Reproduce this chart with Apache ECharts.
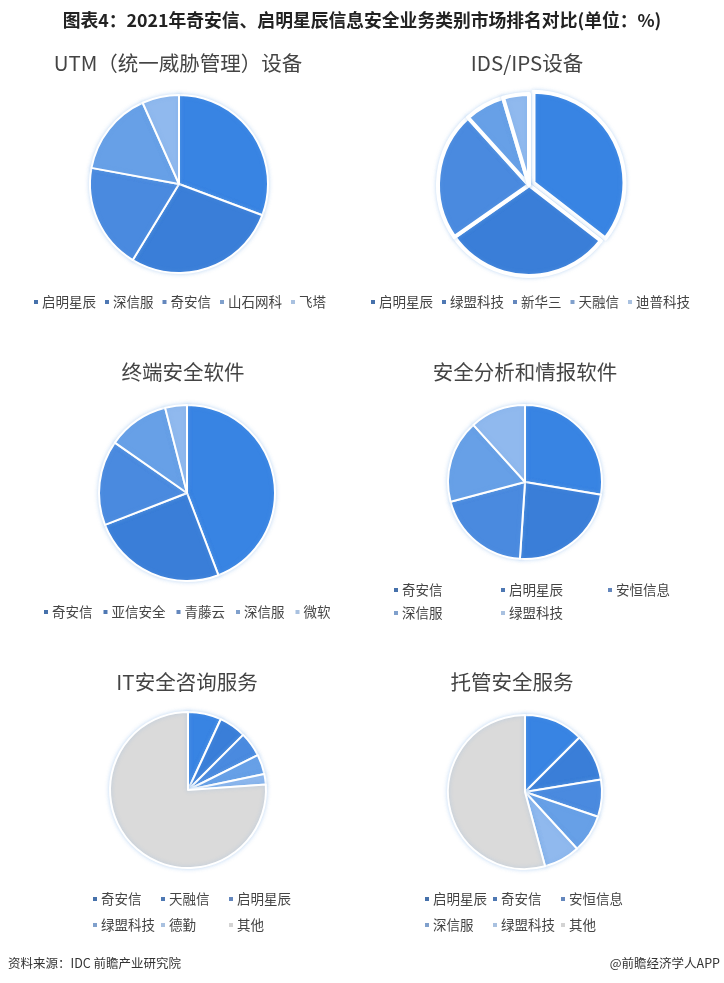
<!DOCTYPE html>
<html>
<head>
<meta charset="utf-8">
<script src="https://cdn.jsdelivr.net/npm/echarts@6/dist/echarts.min.js"></script>
<style>
html,body{margin:0;padding:0;background:#fff;}
#main{width:724px;height:983px;}
</style>
</head>
<body>
<div id="main"></div>
<script>
// ---- data ----
const mainTitle = '图表4：2021年奇安信、启明星辰信息安全业务类别市场排名对比(单位：%)';
const sourceText = '资料来源：IDC 前瞻产业研究院';
const creditText = '@前瞻经济学人APP';

const chartTitles = ['UTM（统一威胁管理）设备', 'IDS/IPS设备', '终端安全软件', '安全分析和情报软件', 'IT安全咨询服务', '托管安全服务'];

const utmNames = ['启明星辰', '深信服', '奇安信', '山石网科', '飞塔'];
const utmValues = [30.7, 28.0, 19.2, 15.4, 6.7];

const idsNames = ['启明星辰', '绿盟科技', '新华三', '天融信', '迪普科技'];
const idsValues = [35.5, 29.8, 23.0, 7.1, 4.6];

const endpointNames = ['奇安信', '亚信安全', '青藤云', '深信服', '微软'];
const endpointValues = [44.2, 24.9, 15.6, 11.3, 4.0];

const analyticsNames = ['奇安信', '启明星辰', '安恒信息', '深信服', '绿盟科技'];
const analyticsValues = [27.6, 23.4, 19.8, 17.4, 11.7];

const consultingNames = ['奇安信', '天融信', '启明星辰', '绿盟科技', '德勤', '其他'];
const consultingValues = [6.9, 5.6, 5.1, 4.1, 2.2, 76.1];

const managedNames = ['启明星辰', '奇安信', '安恒信息', '深信服', '绿盟科技', '其他'];
const managedValues = [12.5, 9.9, 7.8, 8.0, 7.6, 54.2];

// ---- styles ----
const FONT = '"Noto Sans CJK SC", "Noto Sans", sans-serif';
const sliceColors = ['#3884e3', '#3a7ed8', '#4a8adf', '#67a0e7', '#90b9ee'];
const otherColor = '#dadada';
const iconColors = ['#4671ab', '#4e78b3', '#6487bd', '#80a0cc', '#a9c1e0'];
const otherIconColor = '#d3d3d3';

const pies = [
  {names: utmNames, values: utmValues, center: [179, 184], r: 89, title: [178, 63]},
  {names: idsNames, values: idsValues, center: [529, 185], r: 91, title: [527, 63], explode: true},
  {names: endpointNames, values: endpointValues, center: [187, 493], r: 88, title: [183, 372]},
  {names: analyticsNames, values: analyticsValues, center: [525, 482], r: 77, title: [525, 372]},
  {names: consultingNames, values: consultingValues, center: [188, 790], r: 78, title: [187, 682]},
  {names: managedNames, values: managedValues, center: [525, 792], r: 77, title: [512, 682]}
];

function colorFor(name, i, icon) {
  if (name === '其他') return icon ? otherIconColor : otherColor;
  return icon ? iconColors[i] : sliceColors[i];
}

const series = pies.map((p, k) => ({
  type: 'pie',
  center: p.center,
  radius: [0, p.r],
  startAngle: 90,
  clockwise: true,
  selectedMode: p.explode ? 'single' : false,
  selectedOffset: 5,
  label: {show: false},
  labelLine: {show: false},
  emphasis: {disabled: true},
  itemStyle: {
    borderColor: '#fff',
    borderWidth: p.explode ? 4 : 2,
    shadowBlur: 4,
    shadowColor: 'rgba(110,165,230,0.35)'
  },
  data: p.names.map((n, i) => ({
    name: n,
    value: p.values[i],
    selected: p.explode && i === 0,
    itemStyle: {color: colorFor(n, i, false)}
  }))
}));

const legendText = {fontFamily: FONT, fontSize: 13.5, color: '#444', lineHeight: 16, padding: [0, 0, 0, -2]};
const legends = [];
function rowLegend(names, left, cy, gap) {
  legends.push({
    orient: 'horizontal', left: left, top: cy - 8, padding: 0,
    icon: 'rect', itemWidth: 6, itemHeight: 6, itemGap: gap,
    selectedMode: false, textStyle: legendText,
    data: names.map((n, i) => ({name: n, itemStyle: {color: colorFor(n, i, true)}}))
  });
}
function gridLegend(names, cols, rows) {
  names.forEach((n, i) => {
    const c = i % cols.length, r = Math.floor(i / cols.length);
    legends.push({
      orient: 'horizontal', left: cols[c], top: rows[r] - 8, padding: 0,
      icon: 'rect', itemWidth: 6, itemHeight: 6,
      selectedMode: false, textStyle: legendText,
      data: [{name: n, itemStyle: {color: colorFor(n, i, true)}}]
    });
  });
}
rowLegend(utmNames, 32, 302, 7);
rowLegend(idsNames, 369, 302, 7);
rowLegend(endpointNames, 42, 612, 9);
gridLegend(analyticsNames, [392, 499, 606], [590, 613]);
gridLegend(consultingNames, [91, 159, 227], [899, 925]);
gridLegend(managedNames, [423, 491, 559], [899, 925]);

const graphics = [
  {type: 'text', x: 362, y: 20, style: {text: mainTitle, font: 'bold 17.8px ' + FONT, fill: '#222', textAlign: 'center', textVerticalAlign: 'middle'}},
  {type: 'text', x: 8, y: 963, style: {text: sourceText, font: '12.5px ' + FONT, fill: '#333', textAlign: 'left', textVerticalAlign: 'middle'}},
  {type: 'text', x: 720, y: 963, style: {text: creditText, font: '12.5px ' + FONT, fill: '#333', textAlign: 'right', textVerticalAlign: 'middle'}}
];
pies.forEach((p, k) => {
  graphics.push({type: 'text', x: p.title[0], y: p.title[1], style: {text: chartTitles[k], font: '20.5px ' + FONT, fill: '#444', textAlign: 'center', textVerticalAlign: 'middle'}});
});

const chart = echarts.init(document.getElementById('main'), null, {renderer: 'canvas'});
chart.setOption({
  backgroundColor: '#fff',
  animation: false,
  legend: legends,
  series: series,
  graphic: graphics
});
</script>
</body>
</html>
